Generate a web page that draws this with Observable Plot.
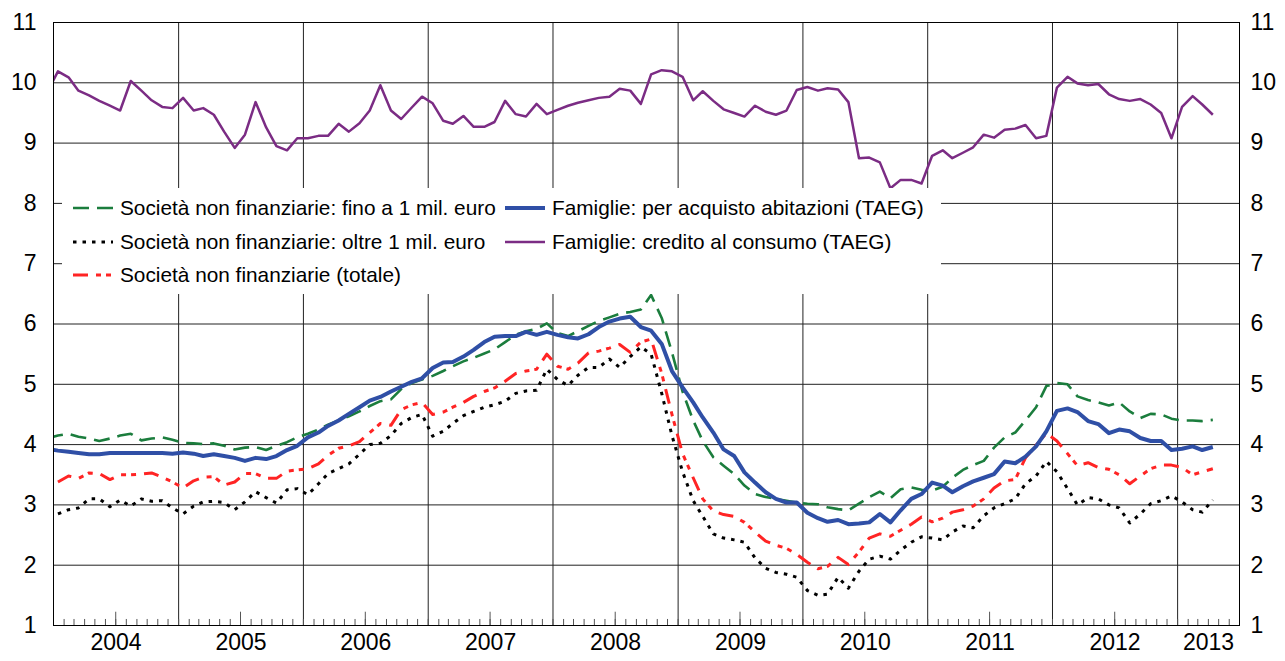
<!DOCTYPE html>
<html><head><meta charset="utf-8">
<script src="https://cdn.jsdelivr.net/npm/d3@7"></script>
<script src="https://cdn.jsdelivr.net/npm/@observablehq/plot@0.6"></script>
<style>
body{margin:0;background:#fff;font-family:"Liberation Sans",Arial,sans-serif;}
#wrap{position:relative;width:1285px;height:661px;}
#legend{position:absolute;left:62px;top:188px;width:879px;height:106px;background:#fff;}
.item{position:absolute;height:26px;display:flex;align-items:center;font-size:20.8px;color:#000;white-space:nowrap;}
.item svg{margin-right:7px;flex:none}
</style></head><body><div id="wrap"><div id="legend"></div></div>
<script>
// Monthly series, Dec 2003 .. Apr 2013 (first value = Dec 2003, clipped at the frame)
const consumo = [9.85,
 10.19,10.09,9.87,9.79,9.70,9.62,9.54,10.03,9.87,9.71,9.60,9.58,
 9.75,9.54,9.58,9.47,9.19,8.92,9.14,9.68,9.26,8.95,8.88,9.08,
 9.08,9.12,9.12,9.32,9.19,9.33,9.54,9.96,9.54,9.40,9.59,9.77,
 9.66,9.37,9.32,9.45,9.27,9.27,9.35,9.70,9.48,9.44,9.65,9.48,
 9.55,9.62,9.67,9.71,9.75,9.77,9.90,9.87,9.65,10.14,10.21,10.19,
 10.10,9.71,9.86,9.70,9.56,9.50,9.44,9.62,9.52,9.47,9.54,9.88,
 9.93,9.87,9.91,9.89,9.68,8.75,8.76,8.68,8.25,8.39,8.39,8.33,
 8.79,8.88,8.75,8.84,8.93,9.14,9.09,9.22,9.24,9.30,9.08,9.12,
 9.92,10.10,9.99,9.96,9.98,9.81,9.73,9.70,9.73,9.64,9.50,9.08,
 9.60,9.78,9.64,9.47];
const abitazioni = [3.93,
 3.90,3.88,3.86,3.84,3.84,3.86,3.86,3.86,3.86,3.86,3.86,3.85,
 3.87,3.85,3.81,3.84,3.81,3.78,3.73,3.78,3.76,3.81,3.91,3.98,
 4.12,4.20,4.31,4.40,4.51,4.62,4.73,4.79,4.88,4.96,5.04,5.10,
 5.27,5.36,5.37,5.46,5.57,5.70,5.79,5.80,5.80,5.87,5.82,5.87,
 5.82,5.78,5.76,5.83,5.95,6.04,6.09,6.12,5.95,5.89,5.67,5.22,
 4.95,4.70,4.45,4.20,3.92,3.81,3.54,3.37,3.21,3.10,3.04,3.04,
 2.87,2.78,2.72,2.75,2.68,2.69,2.71,2.85,2.71,2.91,3.10,3.18,
 3.37,3.32,3.21,3.31,3.39,3.45,3.51,3.72,3.69,3.80,3.97,4.22,
 4.56,4.60,4.54,4.39,4.34,4.19,4.25,4.22,4.11,4.06,4.06,3.91,
 3.93,3.97,3.91,3.96];
const finoA1mil = [4.10,
 4.15,4.18,4.13,4.10,4.06,4.10,4.15,4.18,4.07,4.10,4.12,4.08,
 4.03,4.02,4.01,4.02,3.98,3.92,3.95,3.96,3.91,3.98,4.04,4.12,
 4.18,4.25,4.33,4.40,4.47,4.55,4.64,4.72,4.75,4.92,5.02,5.08,
 5.14,5.22,5.30,5.38,5.44,5.51,5.58,5.70,5.82,5.88,5.92,6.01,
 5.85,5.80,5.88,5.97,6.05,6.11,6.17,6.20,6.24,6.48,6.10,5.53,
 4.88,4.40,4.06,3.79,3.65,3.51,3.32,3.18,3.13,3.10,3.07,3.04,
 3.02,3.01,2.96,2.93,2.91,3.02,3.13,3.22,3.11,3.26,3.29,3.25,
 3.24,3.30,3.45,3.58,3.66,3.73,3.95,4.12,4.20,4.40,4.62,4.97,
 5.02,5.00,4.80,4.74,4.70,4.65,4.70,4.55,4.44,4.51,4.50,4.43,
 4.40,4.40,4.39,4.41];
const oltre1mil = [null,
 2.85,2.92,2.95,3.10,3.10,2.97,3.08,2.98,3.10,3.06,3.07,2.95,
 2.85,2.98,3.05,3.06,3.04,2.92,3.05,3.22,3.12,3.03,3.25,3.27,
 3.17,3.35,3.52,3.60,3.68,3.84,4.00,4.02,4.15,4.35,4.45,4.50,
 4.14,4.22,4.35,4.48,4.55,4.62,4.66,4.72,4.85,4.89,4.90,5.25,
 5.08,4.98,5.15,5.28,5.28,5.42,5.28,5.46,5.62,5.50,4.85,4.15,
 3.55,3.07,2.81,2.52,2.45,2.42,2.38,2.12,1.95,1.88,1.85,1.80,
 1.58,1.50,1.52,1.80,1.62,1.90,2.10,2.15,2.10,2.25,2.38,2.47,
 2.45,2.42,2.55,2.65,2.62,2.82,2.95,3.02,3.10,3.35,3.48,3.72,
 3.55,3.27,3.00,3.12,3.10,3.00,2.95,2.70,2.85,3.02,3.07,3.15,
 3.05,2.92,2.88,3.08];
const totale = [null,
 3.38,3.48,3.44,3.53,3.52,3.42,3.50,3.50,3.51,3.53,3.46,3.38,
 3.28,3.40,3.46,3.47,3.33,3.38,3.52,3.52,3.44,3.44,3.56,3.58,
 3.60,3.68,3.82,3.94,3.98,4.05,4.20,4.35,4.32,4.58,4.66,4.70,
 4.50,4.54,4.62,4.70,4.80,4.88,4.94,5.05,5.18,5.22,5.25,5.50,
 5.30,5.25,5.35,5.52,5.55,5.60,5.66,5.53,5.70,5.75,5.18,4.50,
 3.85,3.45,3.10,2.90,2.84,2.81,2.71,2.55,2.40,2.33,2.28,2.18,
 2.05,1.94,1.98,2.13,2.01,2.22,2.45,2.52,2.48,2.58,2.68,2.80,
 2.72,2.78,2.88,2.92,2.98,3.10,3.28,3.40,3.42,3.78,3.99,4.19,
 4.06,3.85,3.65,3.70,3.62,3.59,3.50,3.35,3.48,3.60,3.66,3.66,
 3.62,3.50,3.55,3.60];

const seriesNames = [
  "Società non finanziarie: fino a 1 mil. euro",
  "Società non finanziarie: oltre 1 mil. euro",
  "Società non finanziarie (totale)",
  "Famiglie: per acquisto abitazioni (TAEG)",
  "Famiglie: credito al consumo (TAEG)"
];
const seriesValues = [finoA1mil, oltre1mil, totale, abitazioni, consumo];
const yTicks = [1,2,3,4,5,6,7,8,9,10,11];
const yearLabels = [2004,2005,2006,2007,2008,2009,2010,2011,2012,2013];

const styles = [
  {stroke:"#1b7d3d", strokeWidth:2.6, strokeDasharray:"16 8"},
  {stroke:"#000000", strokeWidth:3, strokeDasharray:"3.5 6"},
  {stroke:"#ff2424", strokeWidth:3, strokeDasharray:"15 8 5 5 5 8"},
  {stroke:"#2f4fa6", strokeWidth:4},
  {stroke:"#7b2c84", strokeWidth:2.5}
];

const months = d3.utcMonth.range(new Date(Date.UTC(2003,11,1)), new Date(Date.UTC(2013,4,1)));
const dates = months.map(m => d3.utcDay.offset(m, 13));
const xStart = new Date(Date.UTC(2004,0,1)), xEnd = new Date(Date.UTC(2013,6,1));
const monthTicks = d3.utcMonth.range(xStart, xEnd);
const midYearTicks = monthTicks.filter(d => d.getUTCMonth() === 6);
const yearStarts = yearLabels.slice(1).map(y => new Date(Date.UTC(y,0,1)));
const yearLabelPos = yearLabels.map(y => {
  const a = new Date(Date.UTC(y,0,1));
  const b = new Date(Math.min(+new Date(Date.UTC(y+1,0,1)), +xEnd));
  return new Date((+a + +b)/2);
});

const lineMarks = seriesValues.map((vals, i) =>
  Plot.line(vals.map((v, j) => ({date: dates[j], value: v})), {
    x: "date", y: "value", clip: true, strokeLinecap: "butt", strokeLinejoin: "round", ...styles[i]
  })
);

const chart = Plot.plot({
  width: 1285, height: 661,
  marginLeft: 53, marginRight: 46, marginTop: 22, marginBottom: 36,
  x: {type: "utc", domain: [xStart, xEnd]},
  y: {domain: [1, 11]},
  style: {fontFamily: "'Liberation Sans', Arial, sans-serif", fontSize: "23px", color: "#000", background: "#fff"},
  marks: [
    Plot.ruleY(yTicks, {stroke: "#222", strokeWidth: 1}),
    Plot.ruleX(yearStarts, {stroke: "#222", strokeWidth: 1}),
    Plot.ruleX(monthTicks, {y1: 1, y2: 1.1, stroke: "#555", strokeWidth: 1}),
    Plot.ruleX(midYearTicks, {y1: 1, y2: 1.22, stroke: "#555", strokeWidth: 1}),
    ...lineMarks,
    Plot.frame({stroke: "#000", strokeWidth: 1}),
    Plot.axisY(yTicks, {anchor: "left", tickSize: 0, tickPadding: 17, label: null, fontSize: 23, tickFormat: d => String(d)}),
    Plot.axisY(yTicks, {anchor: "right", tickSize: 0, tickPadding: 11, label: null, fontSize: 23, tickFormat: d => String(d)}),
    Plot.axisX(yearLabelPos, {anchor: "bottom", tickSize: 0, tickPadding: 8, label: null, fontSize: 23,
      tickFormat: d => String(yearLabels[yearLabelPos.findIndex(p => +p === +d)])})
  ]
});
const wrap = document.getElementById("wrap");
wrap.insertBefore(chart, wrap.firstChild);

// Legend (inside the plot area, on a white box)
const legend = document.getElementById("legend");
const legendPos = [[11,20],[11,54],[11,87],[443,20],[443,54]];
seriesNames.forEach((name, i) => {
  const it = document.createElement("div");
  it.className = "item";
  it.style.left = legendPos[i][0] + "px";
  it.style.top = (legendPos[i][1] - 13) + "px";
  const s = styles[i];
  it.innerHTML = `<svg width="40" height="10"><line x1="0" y1="5" x2="40" y2="5" stroke="${s.stroke}" stroke-width="${s.strokeWidth}" ${s.strokeDasharray ? `stroke-dasharray="${s.strokeDasharray}"` : ""}/></svg>`;
  const t = document.createElement("span");
  t.textContent = name;
  it.appendChild(t);
  legend.appendChild(it);
});
</script></body></html>
